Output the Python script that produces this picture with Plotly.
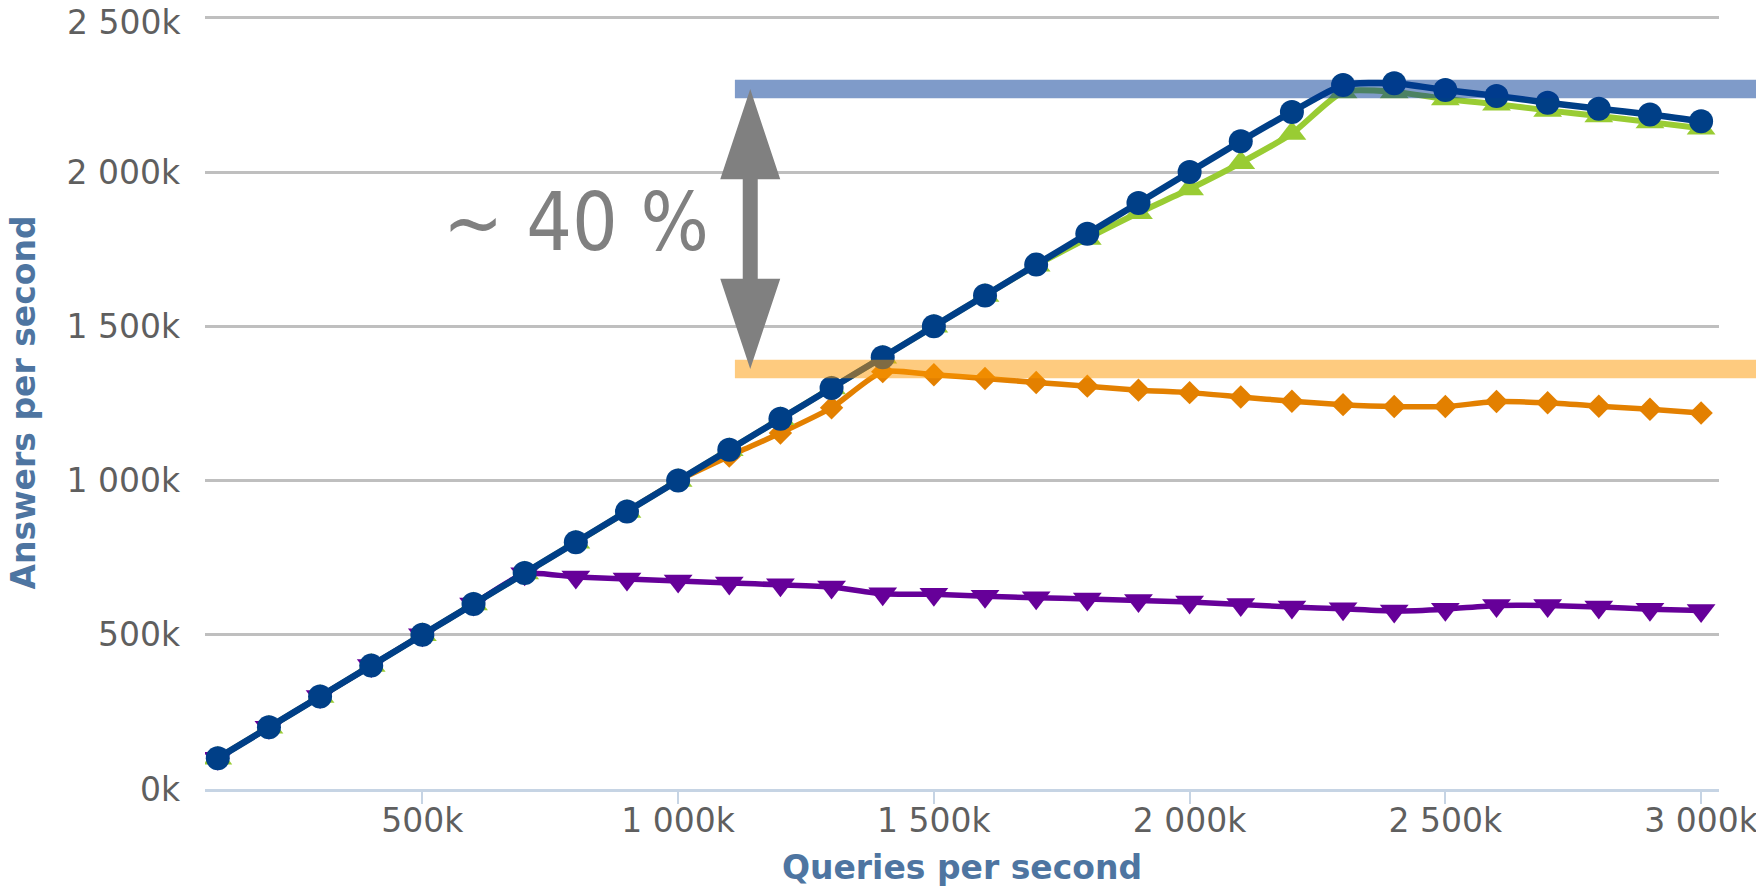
import plotly.graph_objects as go

# ---- data (thousands) ----
queries_k = [100, 200, 300, 400, 500, 600, 700, 800, 900, 1000,
             1100, 1200, 1300, 1400, 1500, 1600, 1700, 1800, 1900, 2000,
             2100, 2200, 2300, 2400, 2500, 2600, 2700, 2800, 2900, 3000]

purple_k = [100, 200, 300, 400, 500, 600, 698, 687, 681, 674,
            668, 662, 655, 633, 631, 625, 620, 616, 611, 606,
            598, 590, 584, 577, 583, 595, 595, 590, 583, 579]

orange_k = [100, 200, 300, 400, 500, 600, 700, 800, 900, 1000,
            1079, 1154, 1236, 1353, 1343, 1331, 1318, 1306, 1293, 1285,
            1271, 1257, 1246, 1240, 1240, 1256, 1252, 1241, 1231, 1219]

green_k = [100, 200, 300, 400, 500, 600, 700, 800, 900, 1000,
           1100, 1200, 1300, 1400, 1500, 1600, 1698, 1785, 1868, 1945,
           2030, 2125, 2260, 2260, 2237, 2220, 2200, 2182, 2162, 2142]

blue_k = [100, 200, 300, 400, 500, 600, 700, 800, 900, 1000,
          1100, 1200, 1300, 1400, 1500, 1600, 1700, 1800, 1900, 2000,
          2100, 2195, 2282, 2288, 2266, 2247, 2225, 2205, 2187, 2165]

y_tickvals = [0, 500, 1000, 1500, 2000, 2500]
y_ticktext = ["0k", "500k", "1 000k", "1 500k", "2 000k", "2 500k"]
x_tickvals = [500, 1000, 1500, 2000, 2500, 3000]
x_ticktext = ["500k", "1 000k", "1 500k", "2 000k", "2 500k", "3 000k"]

# annotation levels (thousands)
high_level_k = 2269
low_level_k = 1362
band_start_k = 1111
arrow_x_k = 1141
label_text = "~ 40 %"
label_x_k = 801
label_y_k = 1835

X_RANGE = [75, 3035]
Y_RANGE = [0, 2506]

BLUE = "#003f87"
GREEN = "#99cc33"
ORANGE = "#e38000"
PURPLE = "#660099"
TITLE_COLOR = "#4e75a1"
TICK_COLOR = "#5f5f5f"

fig = go.Figure()

series = [
    ("orange", orange_k, ORANGE, "diamond", 18, 5.5),
    ("green", green_k, GREEN, "triangle-up", 25, 6),
    ("purple", purple_k, PURPLE, "triangle-down", 25, 5.5),
    ("blue", blue_k, BLUE, "circle", 24, 6.5),
]
for name, ys, col, sym, msize, lw in series:
    fig.add_trace(go.Scatter(
        x=queries_k, y=ys, name=name, mode="lines+markers",
        line=dict(color=col, width=lw, shape="spline", smoothing=0.6),
        marker=dict(symbol=sym, size=msize, color=col, line=dict(width=0)),
        showlegend=False,
    ))

def xpaper(v):
    return (v - X_RANGE[0]) / (X_RANGE[1] - X_RANGE[0])

def ypaper(v):
    return (v - Y_RANGE[0]) / (Y_RANGE[1] - Y_RANGE[0])

shapes = []
# horizontal bands (extend beyond the plot to the page edge)
for lvl, col in [(high_level_k, "rgba(0,56,147,0.5)"), (low_level_k, "rgba(253,151,0,0.5)")]:
    shapes.append(dict(type="line", xref="paper", yref="paper",
                       x0=xpaper(band_start_k), x1=1.2, y0=ypaper(lvl), y1=ypaper(lvl),
                       line=dict(color=col, width=18.5), layer="above"))

# double-headed arrow
px_per_kx = 0.5115
hw = 30 / px_per_kx      # head half width
sw = 7.5 / px_per_kx     # shaft half width
head_len = 292
ax = arrow_x_k
top, bot = high_level_k, low_level_k
pts = [
    (ax, top), (ax + hw, top - head_len), (ax + sw, top - head_len),
    (ax + sw, bot + head_len), (ax + hw, bot + head_len), (ax, bot),
    (ax - hw, bot + head_len), (ax - sw, bot + head_len),
    (ax - sw, top - head_len), (ax - hw, top - head_len),
]
path = "M " + " L ".join(f"{x},{y}" for x, y in pts) + " Z"
shapes.append(dict(type="path", xref="x", yref="y", path=path,
                   fillcolor="#808080", line=dict(width=0), layer="above"))

# top y tick label drawn as an annotation, nudged inside the page like the reference
axis_ticktext = y_ticktext[:-1] + [""]
annotations = [
    dict(x=label_x_k, y=label_y_k, xref="x", yref="y", text=label_text,
         showarrow=False, xanchor="center", yanchor="middle",
         font=dict(family="DejaVu Sans Condensed, Liberation Sans, sans-serif", size=80, color="#808080")),
    dict(x=0, xref="paper", y=y_tickvals[-1], yref="y", text=y_ticktext[-1],
         showarrow=False, xanchor="right", yanchor="middle", xshift=-22, yshift=-5,
         font=dict(family="DejaVu Sans", size=33, color=TICK_COLOR)),
]

fig.update_layout(
    width=1756, height=887,
    margin=dict(l=205, r=37, t=16, b=98, autoexpand=False),
    paper_bgcolor="white", plot_bgcolor="white",
    font=dict(family="DejaVu Sans", size=33, color=TICK_COLOR),
    shapes=shapes,
    annotations=annotations,
)

fig.update_xaxes(
    range=X_RANGE, tickvals=x_tickvals, ticktext=x_ticktext,
    showgrid=False, zeroline=False, automargin=False,
    showline=True, linecolor="#c6d4e4", linewidth=3,
    ticks="outside", ticklen=12, tickwidth=2, tickcolor="#c6d4e4",
    ticklabeloverflow="allow", ticklabelstandoff=-12,
    tickfont=dict(family="DejaVu Sans", size=33, color=TICK_COLOR),
    title=dict(text="Queries per second", standoff=18,
               font=dict(family="DejaVu Sans", size=33, color=TITLE_COLOR, weight="bold")),
)
fig.update_yaxes(
    range=Y_RANGE, tickvals=y_tickvals, ticktext=axis_ticktext,
    showgrid=True, gridcolor="#bfbfbf", gridwidth=3,
    zeroline=False, showline=False, ticks="", automargin=False,
    ticklabelstandoff=24, ticklabeloverflow="allow",
    tickfont=dict(family="DejaVu Sans", size=33, color=TICK_COLOR),
    title=dict(text="Answers per second", standoff=20,
               font=dict(family="DejaVu Sans", size=33, color=TITLE_COLOR, weight="bold")),
)

fig.write_html("out.html", config={"displayModeBar": False},
               post_script="document.body.style.margin='0';document.body.style.overflow='hidden';")
